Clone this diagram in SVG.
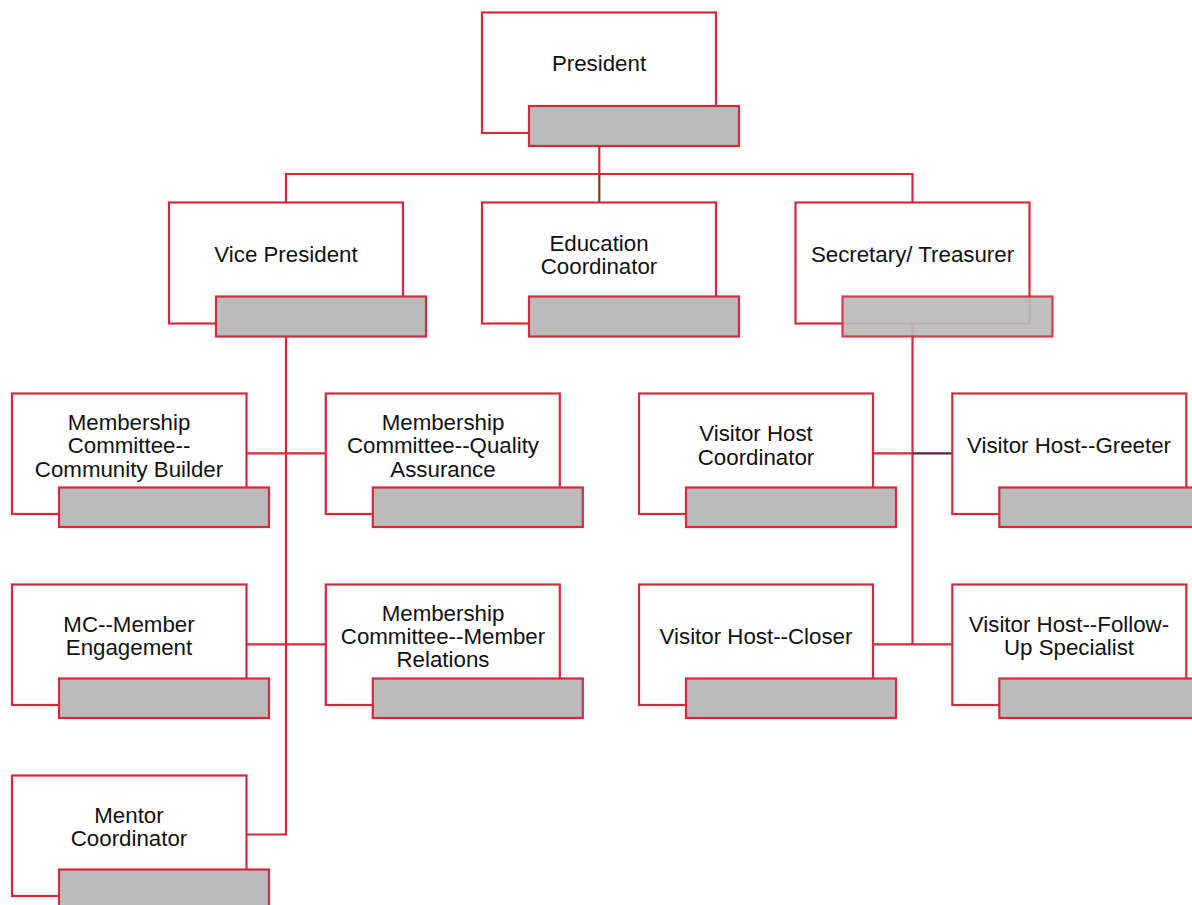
<svg xmlns="http://www.w3.org/2000/svg" width="1192" height="905" viewBox="0 0 1192 905">
<style>
.box{fill:#ffffff;stroke:#d42a3c;stroke-width:2.2}
.bar{fill:#bbbbbb;stroke:#d42a3c;stroke-width:2.2}
.bar2{fill:#bbbbbb;fill-opacity:0.92;stroke:#d42a3c;stroke-width:2.2;stroke-opacity:0.9}
.ln{fill:none;stroke:#d42a3c;stroke-width:2.2}
text{font-family:"Liberation Sans",Arial,sans-serif;font-size:22.3px;fill:#111111;text-anchor:middle}
</style>
<rect width="1192" height="905" fill="#ffffff"/>
<g id="connectors">
<path class="ln" d="M599.3 146V174"/>
<path d="M599.3 174V202.5" fill="none" stroke="#7f3f10" stroke-width="2.2"/>
<path class="ln" d="M286 202.5V174H912.5V202.5"/>
<path class="ln" d="M286 337V834.5H246.5"/>
<path class="ln" d="M246.5 453.3H326"/>
<path class="ln" d="M246.5 644.3H326"/>
<path class="ln" d="M912.5 324V644.3"/>
<path class="ln" d="M873 453.3H912.5"/>
<path d="M912.5 453.3H952" fill="none" stroke="#5a1f3c" stroke-width="2.2"/>
<path class="ln" d="M873 644.3H952"/>
</g>
<g id="president">
<rect class="box" x="482" y="12.5" width="234" height="120.5"/>
<rect class="bar" x="529" y="106" width="210" height="40"/>
<text x="599" y="71">President</text>
</g>
<g id="vice-president">
<rect class="box" x="169" y="202.5" width="234" height="121"/>
<rect class="bar" x="216" y="296.5" width="210" height="40"/>
<text x="286" y="262">Vice President</text>
</g>
<g id="education-coordinator">
<rect class="box" x="482" y="202.5" width="234" height="121"/>
<rect class="bar" x="529" y="296.5" width="210" height="40"/>
<text x="599" y="250.5">Education</text>
<text x="599" y="273.8">Coordinator</text>
</g>
<g id="secretary-treasurer">
<rect class="box" x="795.5" y="202.5" width="234" height="121"/>
<rect class="bar2" x="842.5" y="296.5" width="210" height="40"/>
<text x="912.5" y="262">Secretary/ Treasurer</text>
</g>
<g id="mc-community-builder">
<rect class="box" x="12" y="393.5" width="234.5" height="120.5"/>
<rect class="bar" x="59" y="487.5" width="210" height="39.5"/>
<text x="129" y="430">Membership</text>
<text x="129" y="453.3">Committee--</text>
<text x="129" y="476.6">Community Builder</text>
</g>
<g id="mc-quality-assurance">
<rect class="box" x="325.8" y="393.5" width="234" height="120.5"/>
<rect class="bar" x="372.8" y="487.5" width="210" height="39.5"/>
<text x="443" y="430">Membership</text>
<text x="443" y="453.3">Committee--Quality</text>
<text x="443" y="476.6">Assurance</text>
</g>
<g id="mc-member-engagement">
<rect class="box" x="12" y="584.5" width="234.5" height="120.5"/>
<rect class="bar" x="59" y="678.5" width="210" height="39.5"/>
<text x="129" y="632">MC--Member</text>
<text x="129" y="655.3">Engagement</text>
</g>
<g id="mc-member-relations">
<rect class="box" x="325.8" y="584.5" width="234" height="120.5"/>
<rect class="bar" x="372.8" y="678.5" width="210" height="39.5"/>
<text x="443" y="620.5">Membership</text>
<text x="443" y="643.8">Committee--Member</text>
<text x="443" y="667.1">Relations</text>
</g>
<g id="mentor-coordinator">
<rect class="box" x="12" y="775.5" width="234.5" height="120.5"/>
<rect class="bar" x="59" y="869.5" width="210" height="39.5"/>
<text x="129" y="823">Mentor</text>
<text x="129" y="846.3">Coordinator</text>
</g>
<g id="visitor-host-coordinator">
<rect class="box" x="639" y="393.5" width="234" height="120.5"/>
<rect class="bar" x="686" y="487.5" width="210" height="39.5"/>
<text x="756" y="441.3">Visitor Host</text>
<text x="756" y="464.6">Coordinator</text>
</g>
<g id="visitor-host-greeter">
<rect class="box" x="952.3" y="393.5" width="234" height="120.5"/>
<rect class="bar" x="999.3" y="487.5" width="210" height="39.5"/>
<text x="1069" y="453">Visitor Host--Greeter</text>
</g>
<g id="visitor-host-closer">
<rect class="box" x="639" y="584.5" width="234" height="120.5"/>
<rect class="bar" x="686" y="678.5" width="210" height="39.5"/>
<text x="756" y="644">Visitor Host--Closer</text>
</g>
<g id="visitor-host-follow-up">
<rect class="box" x="952.3" y="584.5" width="234" height="120.5"/>
<rect class="bar" x="999.3" y="678.5" width="210" height="39.5"/>
<text x="1069" y="632">Visitor Host--Follow-</text>
<text x="1069" y="655.3">Up Specialist</text>
</g>
</svg>
